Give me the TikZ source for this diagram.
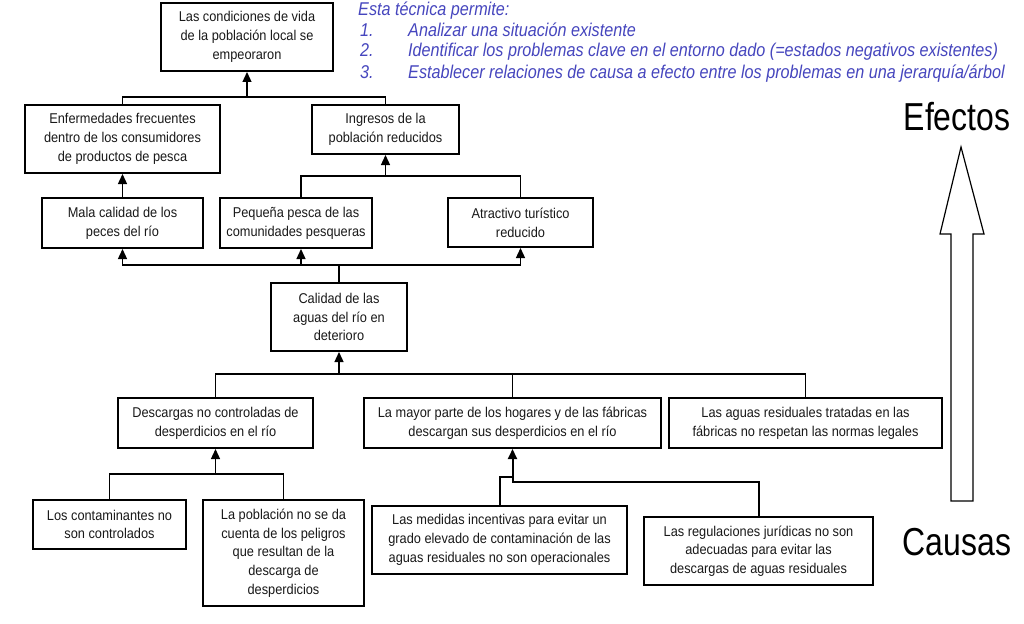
\documentclass[tikz,border=0pt]{standalone}
\usepackage{fontspec}
\setmainfont{Liberation Sans}
\newfontfamily\boxfont[FakeStretch=0.9]{Liberation Sans}
\newfontfamily\bluefont[FakeStretch=0.875]{Liberation Sans}
\newfontfamily\bigfont[FakeStretch=0.82]{Liberation Sans}
\usetikzlibrary{arrows.meta}
\definecolor{txtblue}{RGB}{70,70,190}
\definecolor{ink}{RGB}{25,25,25}
\tikzset{
  pbox/.style={draw=black, line width=2pt, align=center, inner sep=0pt,
    font=\boxfont\fontsize{14.2}{18.7}\selectfont, text=ink},
  conn/.style={line width=1.3pt, draw=black},
  thickconn/.style={line width=2pt, draw=black},
  arr/.style={-{Triangle[width=9pt,length=10pt]}},
  bluetxt/.style={anchor=base west, inner sep=0pt, text=txtblue,
    font=\bluefont\itshape\fontsize{18.5}{21}\selectfont},
  bigtxt/.style={anchor=base, inner sep=0pt, text=black,
    font=\bigfont\fontsize{39}{39}\selectfont}
}
\begin{document}
\begin{tikzpicture}[x=1pt,y=-1pt]
\useasboundingbox[fill=white] (0,0) rectangle (1024,623);

% boxes
\node[pbox, minimum width=172pt, minimum height=68pt] (top) at (247,37) {Las condiciones de vida\\de la población local se\\empeoraron};
\node[pbox, minimum width=195pt, minimum height=68pt] (enf) at (122.5,139) {Enfermedades frecuentes\\dentro de los consumidores\\de productos de pesca};
\node[pbox, minimum width=147pt, minimum height=49pt] (ing) at (385.5,129.5) {Ingresos de la\\población reducidos};
\node[pbox, minimum width=161pt, minimum height=50pt] (mala) at (122.5,223) {Mala calidad de los\\peces del río};
\node[pbox, minimum width=152pt, minimum height=50pt] (peq) at (296,223) {Pequeña pesca de las\\comunidades pesqueras};
\node[pbox, minimum width=145pt, minimum height=49pt] (atr) at (520.5,222.5) {Atractivo turístico\\reducido};
\node[pbox, minimum width=136pt, minimum height=68pt] (cal) at (339,317) {Calidad de las\\aguas del río en\\deterioro};
\node[pbox, minimum width=195pt, minimum height=50pt] (desc) at (215.5,423) {Descargas no controladas de\\desperdicios en el río};
\node[pbox, minimum width=297pt, minimum height=50pt] (mayor) at (512.5,423) {La mayor parte de los hogares y de las fábricas\\descargan sus desperdicios en el río};
\node[pbox, minimum width=273pt, minimum height=50pt] (aguas) at (805.5,423) {Las aguas residuales tratadas en las\\fábricas no respetan las normas legales};
\node[pbox, minimum width=153pt, minimum height=49pt] (cont) at (109.5,524.5) {Los contaminantes no\\son controlados};
\node[pbox, minimum width=161pt, minimum height=106pt] (pob) at (283.5,553) {La población no se da\\cuenta de los peligros\\que resultan de la\\descarga de\\desperdicios};
\node[pbox, minimum width=255pt, minimum height=68pt] (med) at (499.5,540) {Las medidas incentivas para evitar un\\grado elevado de contaminación de las\\aguas residuales no son operacionales};
\node[pbox, minimum width=229pt, minimum height=68pt] (reg) at (758.5,551) {Las regulaciones jurídicas no son\\adecuadas para evitar las\\descargas de aguas residuales};

% junctions
\coordinate (j1) at (247,97);
\coordinate (j2) at (385.5,176);
\coordinate (j3) at (339,265);
\coordinate (j4) at (339,374);
\coordinate (j5) at (215.5,474);
\coordinate (j6a) at (512.5,477);
\coordinate (j6b) at (512.5,482);

% connectors
\draw[conn] (enf.north) |- (j1) -| (ing.north);
\draw[conn, arr] (j1) -- (top.south);
\draw[conn, arr] (mala.north) -- (enf.south);
\draw[conn] ([xshift=5pt]peq.north) |- (j2) -| (atr.north);
\draw[conn, arr] (j2) -- (ing.south);
\draw[conn] (cal.north) -- (j3);
\draw[conn, arr] (j3) -| (mala.south);
\draw[conn, arr] (j3) -| ([xshift=5pt]peq.south);
\draw[conn, arr] (j3) -| (atr.south);
\draw[conn] (desc.north) |- (j4) -| (aguas.north);
\draw[conn] (j4) -| (mayor.north);
\draw[conn, arr] (j4) -- (cal.south);
\draw[conn] (cont.north) |- (j5) -| (pob.north);
\draw[conn, arr] (j5) -- (desc.south);
\draw[thickconn] (med.north) |- (j6a) -- (j6b) -| (reg.north);
\draw[thickconn, arr] (j6a) -- (mayor.south);

% big arrow
\draw[line width=1.2pt, fill=white] (951,501) -- (973,501) -- (973,234) -- (984,234) -- (961,147) -- (940,234) -- (951,234) -- cycle;
\node[bigtxt] (efectos) at (957,131) {Efectos};
\node[bigtxt] (causas) at (957,555) {Causas};

% blue text
\node[bluetxt] (t0) at (358,16) {Esta técnica permite:};
\node[bluetxt] (n1) at (360,37) {1.};
\node[bluetxt] (t1) at (408,37) {Analizar una situación existente};
\node[bluetxt] (n2) at (360,57) {2.};
\node[bluetxt] (t2) at (408,57) {Identificar los problemas clave en el entorno dado (=estados negativos existentes)};
\node[bluetxt] (n3) at (360,79) {3.};
\node[bluetxt] (t3) at (408,79) {Establecer relaciones de causa a efecto entre los problemas en una jerarquía/árbol};
\end{tikzpicture}
\end{document}
